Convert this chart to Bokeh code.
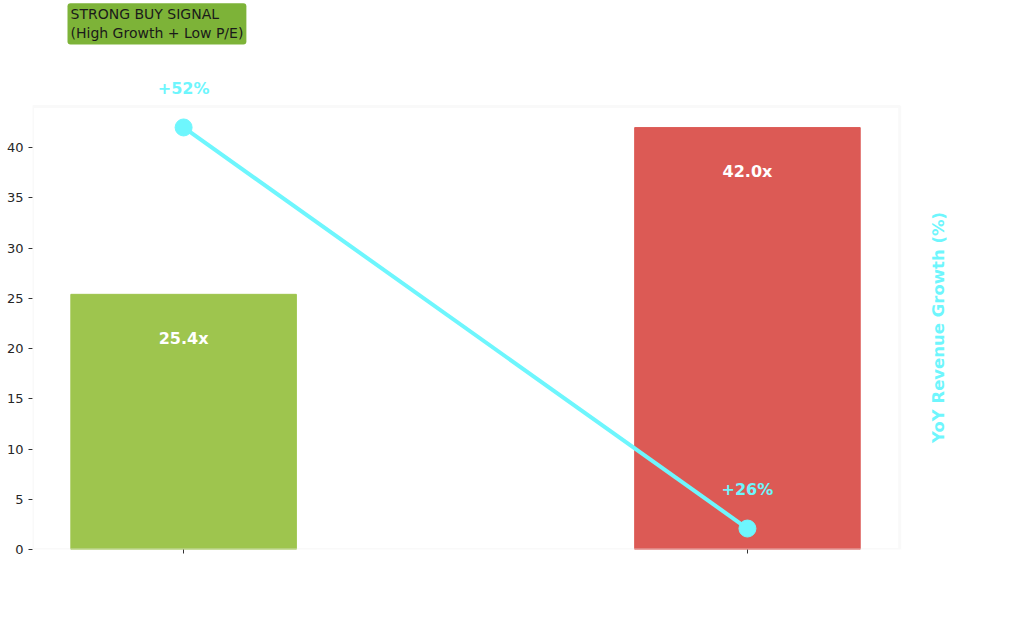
import math

from bokeh.core.properties import value
from bokeh.embed import file_html
from bokeh.models import (BoxAnnotation, ColumnDataSource, FixedTicker, Label,
                          LabelSet, Range1d)
from bokeh.plotting import figure
from bokeh.resources import INLINE

# Data
categories = ["Company A", "Company B"]
pe_ratios = [25.4, 42.0]
growth = [52, 26]
bar_colors = ["#9ec54e", "#dc5a55"]
pe_labels = ["25.4x", "42.0x"]
growth_labels = ["+52%", "+26%"]

CYAN = "#6ef6fd"
FONT = "DejaVu Sans"

positions = list(range(len(categories)))
source = ColumnDataSource(data=dict(
    x=positions,
    cat=categories,
    pe=pe_ratios,
    growth=growth,
    color=bar_colors,
    pe_label=pe_labels,
    growth_label=growth_labels,
))

# frame runs up to the top and right of the canvas so the texts outside the
# light box are not clipped; the box itself is drawn as an annotation
p = figure(width=1008, height=624, output_backend="svg", toolbar_location=None,
           x_range=Range1d(-0.268, 1.463), y_range=Range1d(0, 54.65),
           min_border_left=32, min_border_right=0, min_border_top=0,
           min_border_bottom=75)
p.extra_y_ranges = {"growth": Range1d(24.64, 60.23)}

p.xgrid.visible = False
p.ygrid.visible = False
p.outline_line_color = None

p.add_layout(BoxAnnotation(bottom=0, top=44.1, right=1.27, fill_alpha=0,
                           line_color="#ececec", line_width=3))

# Bars (P/E)
p.vbar(x="x", top="pe", width=0.4, color="color", source=source)
p.add_layout(LabelSet(x="x", y="pe", text="pe_label", source=source, y_offset=-44,
                      text_align="center", text_baseline="middle", text_color="white",
                      text_font=value(FONT), text_font_style="bold",
                      text_font_size="16px"))

# Growth line on twin axis
p.line(x="x", y="growth", source=source, y_range_name="growth",
       line_color=CYAN, line_width=4)
p.scatter(x="x", y="growth", source=source, y_range_name="growth",
          size=17, fill_color=CYAN, line_color=CYAN)
p.add_layout(LabelSet(x="x", y="growth", text="growth_label", source=source,
                      y_range_name="growth", y_offset=39,
                      text_align="center", text_baseline="middle", text_color=CYAN,
                      text_font=value(FONT), text_font_style="bold",
                      text_font_size="16px"))

# Axes
p.xaxis.ticker = FixedTicker(ticks=positions)
p.xaxis.major_label_overrides = {i: "" for i in positions}
p.xaxis.axis_line_color = None
p.xaxis.major_tick_in = 0
p.xaxis.major_tick_out = 4
p.xaxis.major_tick_line_color = "#333333"
p.xaxis.minor_tick_line_color = None

p.yaxis.ticker = FixedTicker(ticks=[0, 5, 10, 15, 20, 25, 30, 35, 40])
p.yaxis.axis_line_color = None
p.yaxis.major_tick_in = 0
p.yaxis.major_tick_out = 4
p.yaxis.major_tick_line_color = "#333333"
p.yaxis.minor_tick_line_color = None
p.yaxis.major_label_text_font = FONT
p.yaxis.major_label_text_font_size = "13px"
p.yaxis.major_label_text_color = "#262626"

# twin axis title (growth axis has no ticks)
p.add_layout(Label(x=906, y=222, x_units="screen", y_units="screen",
                   text="YoY Revenue Growth (%)", angle=math.pi / 2,
                   text_align="center", text_baseline="middle",
                   text_color=CYAN, text_font=FONT, text_font_style="bold",
                   text_font_size="16.5px"))

# Signal annotation
note = Label(x=35, y=505, x_units="screen", y_units="screen",
             text="STRONG BUY SIGNAL\n(High Growth + Low P/E)",
             text_font=FONT, text_font_size="14px", text_color="#1a1a1a",
             text_baseline="bottom", background_fill_color="#7db338",
             padding=3, border_radius=3)
p.add_layout(note)

open("out.html", "w").write(file_html(p, INLINE))
